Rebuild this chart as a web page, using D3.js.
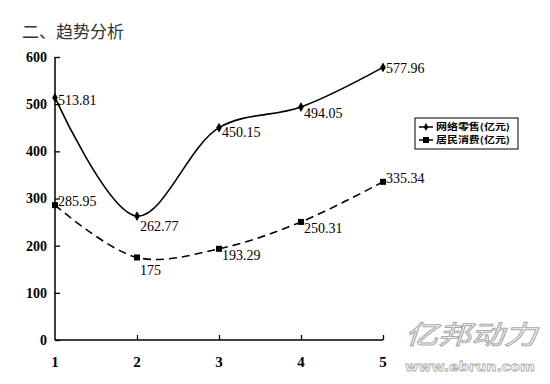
<!DOCTYPE html>
<html><head><meta charset="utf-8">
<script src="https://cdn.jsdelivr.net/npm/d3@7"></script>
<style>
body{margin:0;background:#fff;}
svg{display:block;}
</style></head>
<body>
<svg id="c" width="550" height="384"></svg>
<script>
const categories = [1, 2, 3, 4, 5];
const onlineRetail = [513.81, 262.77, 450.15, 494.05, 577.96];
const consumption = [285.95, 175, 193.29, 250.31, 335.34];
const onlineLabels = ["513.81", "262.77", "450.15", "494.05", "577.96"];
const consumptionLabels = ["285.95", "175", "193.29", "250.31", "335.34"];
const yTicks = [0, 100, 200, 300, 400, 500, 600];
const seriesNames = ["网络零售(亿元)", "居民消费(亿元)"];
const title = "二、趋势分析";

const onlineLabelDy = [2, 10, 4, 6, 1];
const consLabelDy = [-4, 13, 6, 6, -4];

const svg = d3.select("#c");
const x = d3.scaleLinear().domain([1, 5]).range([55, 383]);
const y = d3.scaleLinear().domain([0, 600]).range([340, 57]);

svg.append("text").attr("x", 22).attr("y", 38)
  .attr("font-family", "Noto Sans CJK SC").attr("font-size", 17).attr("fill", "#333")
  .text(title);

// axes
const yAxis = svg.append("g").attr("transform", "translate(55,0)")
  .call(d3.axisRight(y).tickValues(yTicks).tickSize(5).tickFormat(""));
yAxis.select(".domain").attr("d", `M0,${y(600)}V${y(0)}`).attr("stroke", "#000").attr("stroke-width", 1.5);
yAxis.selectAll(".tick line").attr("stroke", "#000").attr("stroke-width", 1.3);
svg.append("g").selectAll("text").data(yTicks).join("text")
  .attr("x", 47).attr("y", d => y(d)).attr("dy", "0.35em").attr("text-anchor", "end")
  .attr("font-family", "Liberation Serif").attr("font-weight", "bold").attr("font-size", 14)
  .text(d => d);

const xAxis = svg.append("g").attr("transform", "translate(0,340)")
  .call(d3.axisTop(x).tickValues(categories.slice(1)).tickSize(5).tickFormat(""));
xAxis.select(".domain").attr("d", `M${x(1)},0H${x(5)}`).attr("stroke", "#000").attr("stroke-width", 1.5);
xAxis.selectAll(".tick line").attr("stroke", "#000").attr("stroke-width", 1.3);
svg.append("g").selectAll("text").data(categories).join("text")
  .attr("x", d => x(d)).attr("y", 362).attr("dy", "0.35em").attr("text-anchor", "middle")
  .attr("font-family", "Liberation Serif").attr("font-weight", "bold").attr("font-size", 15)
  .text(d => d);

const line = d3.line().x((d, i) => x(categories[i])).y(d => y(d)).curve(d3.curveCatmullRom.alpha(0.5));

svg.append("path").datum(onlineRetail).attr("d", line)
  .attr("fill", "none").attr("stroke", "#000").attr("stroke-width", 1.6);
svg.append("path").datum(consumption).attr("d", line)
  .attr("fill", "none").attr("stroke", "#000").attr("stroke-width", 1.6).attr("stroke-dasharray", "8,5");

// markers
svg.append("g").selectAll("path").data(onlineRetail).join("path")
  .attr("d", d3.symbol(d3.symbolDiamond, 28))
  .attr("transform", (d, i) => `translate(${x(categories[i])},${y(d)})`).attr("fill", "#000");
svg.append("g").selectAll("rect").data(consumption).join("rect")
  .attr("x", (d, i) => x(categories[i]) - 3).attr("y", d => y(d) - 3)
  .attr("width", 6).attr("height", 6).attr("fill", "#000");

// labels
svg.append("g").selectAll("text").data(onlineRetail).join("text")
  .attr("x", (d, i) => x(categories[i]) + 3).attr("y", (d, i) => y(d) + onlineLabelDy[i])
  .attr("dy", "0.35em").attr("font-family", "Liberation Serif").attr("font-size", 14)
  .text((d, i) => onlineLabels[i]);
svg.append("g").selectAll("text").data(consumption).join("text")
  .attr("x", (d, i) => x(categories[i]) + 3).attr("y", (d, i) => y(d) + consLabelDy[i])
  .attr("dy", "0.35em").attr("font-family", "Liberation Serif").attr("font-size", 14)
  .text((d, i) => consumptionLabels[i]);

// legend
const lg = svg.append("g");
lg.append("rect").attr("x", 415).attr("y", 118).attr("width", 103).attr("height", 31)
  .attr("fill", "#fff").attr("stroke", "#000").attr("stroke-width", 1);
lg.append("line").attr("x1", 419).attr("x2", 433).attr("y1", 127).attr("y2", 127).attr("stroke", "#000").attr("stroke-width", 1.5);
lg.append("path").attr("d", d3.symbol(d3.symbolDiamond, 18)).attr("transform", "translate(426,127)");
lg.append("line").attr("x1", 419).attr("x2", 433).attr("y1", 140).attr("y2", 140).attr("stroke", "#000").attr("stroke-width", 1.5);
lg.append("rect").attr("x", 423).attr("y", 137).attr("width", 6).attr("height", 6);
lg.selectAll("text").data(seriesNames).join("text")
  .attr("x", 436).attr("y", (d, i) => 127 + i * 13).attr("dy", "0.35em")
  .attr("font-family", "Noto Sans CJK SC").attr("font-weight", "bold").attr("font-size", 9)
  .attr("textLength", 74).attr("lengthAdjust", "spacingAndGlyphs")
  .text(d => d);

// watermark
svg.append("text").attr("x", 405).attr("y", 344)
  .attr("font-family", "Noto Sans CJK SC").attr("font-size", 26).attr("font-style", "italic")
  .attr("textLength", 132).attr("lengthAdjust", "spacingAndGlyphs")
  .attr("fill", "#fff").attr("stroke", "#aaa").attr("stroke-width", 1)
  .text("亿邦动力");
svg.append("text").attr("x", 405).attr("y", 371)
  .attr("font-family", "DejaVu Sans").attr("font-size", 13).attr("font-weight", "bold")
  .attr("textLength", 130).attr("lengthAdjust", "spacingAndGlyphs")
  .attr("fill", "#fff").attr("stroke", "#aaa").attr("stroke-width", 0.8)
  .text("www.ebrun.com");
</script>
</body></html>
